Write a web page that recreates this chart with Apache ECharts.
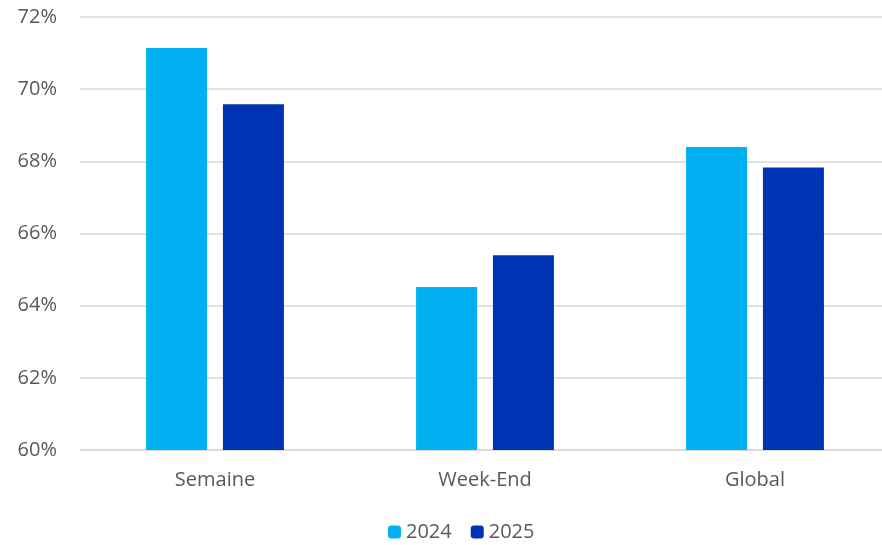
<!DOCTYPE html>
<html>
<head>
<meta charset="utf-8">
<script src="https://cdn.jsdelivr.net/npm/echarts@6/dist/echarts.min.js"></script>
<style>
html, body { margin: 0; padding: 0; background: #fff; overflow: hidden; }
/* plot area runs a bit past the right edge, like the source picture */
#chart { width: 890px; height: 545px; }
</style>
</head>
<body>
<div id="chart"></div>
<script>
var categories = ['Semaine', 'Week-End', 'Global'];
var values2024 = [71.14, 64.52, 68.40];
var values2025 = [69.58, 65.40, 67.83];

var myChart = echarts.init(document.getElementById('chart'), null, {renderer: 'canvas'});

var txt = '#595959';
var fontFam = '"Open Sans", sans-serif';

option = {
    animation: false,
    grid: {
        left: 80,
        top: 17,
        width: 810,
        height: 433
    },
    legend: {
        data: ['2024', '2025'],
        top: 517,
        left: 383,
        itemWidth: 13,
        itemHeight: 13,
        itemGap: 19,
        textStyle: { color: txt, fontSize: 20, fontFamily: fontFam }
    },
    xAxis: {
        type: 'category',
        data: categories,
        axisLine: { lineStyle: { color: '#d9d9d9', width: 1.5 } },
        axisTick: { show: false },
        axisLabel: { color: txt, fontSize: 20, fontFamily: fontFam, margin: 20 }
    },
    yAxis: {
        type: 'value',
        min: 60,
        max: 72,
        interval: 2,
        axisLine: { show: false },
        axisTick: { show: false },
        splitLine: { lineStyle: { color: '#d9d9d9', width: 1.5 } },
        axisLabel: {
            color: txt, fontSize: 20, fontFamily: fontFam, margin: 23,
            formatter: function (v) { return v + '%'; }
        }
    },
    series: [
        {
            name: '2024',
            type: 'bar',
            data: values2024,
            barWidth: 61,
            barGap: '26%',
            itemStyle: { color: '#00b0f0' }
        },
        {
            name: '2025',
            type: 'bar',
            data: values2025,
            barWidth: 61,
            itemStyle: { color: '#0033b4' }
        }
    ]
};

myChart.setOption(option);
</script>
</body>
</html>
